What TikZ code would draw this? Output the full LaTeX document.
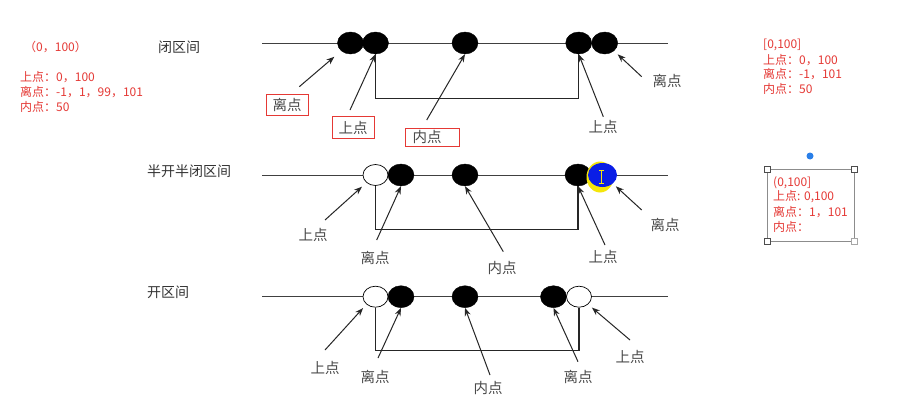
\documentclass[tikz,border=0pt]{standalone}
\usepackage{fontspec}
\setmainfont{Noto Sans CJK SC}
\usetikzlibrary{shapes.geometric,arrows.meta}
\definecolor{redtxt}{HTML}{E53935}
\definecolor{labelgray}{HTML}{4A4A4A}
\definecolor{hlblue}{HTML}{0A1EE6}
\definecolor{hlyellow}{HTML}{F5E60A}
\definecolor{dotblue}{HTML}{2A7FE8}
\begin{document}
\begin{tikzpicture}[x=1pt,y=-1pt,
  dot/.style={ellipse,draw=black,fill=black,minimum width=26pt,minimum height=22pt,inner sep=0pt},
  hollow/.style={ellipse,draw=black,line width=0.7pt,fill=white,minimum width=25pt,minimum height=21pt,inner sep=0pt},
  axis/.style={draw=black!75,line width=0.9pt},
  brk/.style={draw=black!85,line width=1.1pt},
  arr/.style={draw=black!85,line width=1pt,-{Stealth[length=8pt,width=6pt]}},
  lbl/.style={text=labelgray,font=\fontsize{14.5}{14.5}\selectfont,inner sep=0pt},
  ttl/.style={text=black!80,font=\fontsize{14}{14}\selectfont,anchor=west,inner sep=0pt},
  redtext/.style={text=redtxt,font=\fontsize{12}{14}\selectfont,anchor=west,inner sep=0pt},
  redbox/.style={draw=redtxt,line width=0.8pt,inner sep=0pt,text=labelgray,font=\fontsize{14.5}{14.5}\selectfont},
  handle/.style={draw=black!70,fill=white,line width=0.7pt,minimum size=6pt,inner sep=0pt}
]
\useasboundingbox (0,0) rectangle (924,407);
\fill[white] (0,0) rectangle (924,407);

% ---------- left notes ----------
\node[redtext] (l0) at (24,47) {（0，100）};
\node[redtext] (l1) at (20,77) {上点：0，100};
\node[redtext] (l2) at (20,92) {离点：-1，1，99，101};
\node[redtext] (l3) at (20,107) {内点：50};

% ---------- right notes ----------
\node[redtext] (r0) at (763,45) {[0,100]};
\node[redtext] (r1) at (763,60) {上点：0，100};
\node[redtext] (r2) at (763,74) {离点：-1，101};
\node[redtext] (r3) at (763,89) {内点：50};

% selection box
\draw[draw=black!45,line width=0.8pt] (767,169) rectangle (854,241);
\node[handle] (h1) at (767,169) {};
\node[handle] (h2) at (854,169) {};
\node[handle] (h3) at (767,241) {};
\node[handle,draw=black!35] (h4) at (854,241) {};
\node[circle,fill=dotblue,minimum size=7pt,inner sep=0pt] (bd) at (810,156) {};
\node[redtext] (s0) at (773,183) {(0,100]};
\node[redtext] (s1) at (773,197) {上点: 0,100};
\node[redtext] (s2) at (773,212) {离点：1，101};
\node[redtext] (s3) at (773,227) {内点：};

% ---------- row 1: closed ----------
\node[ttl] (t1) at (158,47) {闭区间};
\draw[axis] (262,43) -- (668,43);
\node[dot] (a1) at (350.5,43) {};
\node[dot] (a2) at (375.5,43) {};
\node[dot] (a3) at (465,43) {};
\node[dot] (a4) at (578.7,43) {};
\node[dot] (a5) at (604.7,43) {};
\draw[brk] (a2.south) -- ++(0,44) -| (a4.south);

\node[redbox,minimum width=42pt,minimum height=21pt] (a1l) at (287,104.5) {离点};
\node[redbox,minimum width=42pt,minimum height=21.5pt] (a2l) at (353,127.5) {上点};
\node[redbox,text width=40pt,align=left,inner xsep=7pt,minimum height=18pt] (a3l) at (432.5,137.5) {内点};
\node[lbl] (a4l) at (603,127) {上点};
\node[lbl] (a5l) at (667,81) {离点};

\coordinate (a1t) at (299.3,86.7);
\coordinate (a2t) at (350,110);
\coordinate (a3t) at (426.7,120);
\coordinate (a4t) at (603.3,116.7);
\coordinate (a5t) at (641.7,76.7);
\draw[arr,shorten >=9pt] (a1t) -- (a1.south west);
\draw[arr] (a2t) -- (a2.south);
\draw[arr] (a3t) -- (a3.south);
\draw[arr] (a4t) -- (a4.south);
\draw[arr,shorten >=5pt] (a5t) -- (a5.south east);

% ---------- row 2: half open ----------
\node[ttl] (t2) at (147,171) {半开半闭区间};
\draw[axis] (262,175) -- (668,175);
\node[hollow] (b1) at (375.5,175) {};
\node[dot] (b2) at (401,175) {};
\node[dot] (b3) at (465,175) {};
\node[dot] (b4) at (578,175) {};
\fill[hlyellow] (600,177) ellipse [x radius=13.5pt,y radius=15.5pt];
\node[ellipse,fill=hlblue,minimum width=29pt,minimum height=24pt,inner sep=0pt] (b5) at (602.5,175) {};
\draw[hlyellow,line width=0.9pt] (601.7,170.7) -- (601.7,183.3)
  (599.2,170.7) -- (604.2,170.7) (599.2,183.3) -- (604.2,183.3);
\draw[brk] (b1.south) -- ++(0,43.5) -| (b4.south);

\node[lbl] (b1l) at (313,235) {上点};
\node[lbl] (b2l) at (375,258) {离点};
\node[lbl] (b3l) at (502,268) {内点};
\node[lbl] (b4l) at (603,257) {上点};
\node[lbl] (b5l) at (665,225) {离点};

\coordinate (b1t) at (325,220);
\coordinate (b2t) at (376.7,240);
\coordinate (b3t) at (503.3,251.7);
\coordinate (b4t) at (605,245);
\coordinate (b5t) at (641.7,210);
\draw[arr,shorten >=6pt] (b1t) -- (b1.south west);
\draw[arr] (b2t) -- (b2.south);
\draw[arr] (b3t) -- (b3.south);
\draw[arr] (b4t) -- (b4.south);
\draw[arr,shorten >=4pt] (b5t) -- (b5.south east);

% ---------- row 3: open ----------
\node[ttl] (t3) at (147,292) {开区间};
\draw[axis] (262,296.7) -- (668,296.7);
\node[hollow] (c1) at (375.5,296.7) {};
\node[dot] (c2) at (401,296.7) {};
\node[dot] (c3) at (465,296.7) {};
\node[dot] (c4) at (553.5,296.7) {};
\node[hollow] (c5) at (579,296.7) {};
\draw[brk] (c1.south) -- ++(0,43) -| (c5.south);

\node[lbl] (c1l) at (325,368) {上点};
\node[lbl] (c2l) at (375,377) {离点};
\node[lbl] (c3l) at (488,388) {内点};
\node[lbl] (c4l) at (578,377) {离点};
\node[lbl] (c5l) at (630,357) {上点};

\coordinate (c1t) at (325,350);
\coordinate (c2t) at (378,358);
\coordinate (c3t) at (490,375);
\coordinate (c4t) at (578,361.7);
\coordinate (c5t) at (630,340);
\draw[arr,shorten >=5pt] (c1t) -- (c1.south west);
\draw[arr] (c2t) -- (c2.south);
\draw[arr] (c3t) -- (c3.south);
\draw[arr] (c4t) -- (c4.south);
\draw[arr,shorten >=5pt] (c5t) -- (c5.south east);
\end{tikzpicture}
\end{document}
